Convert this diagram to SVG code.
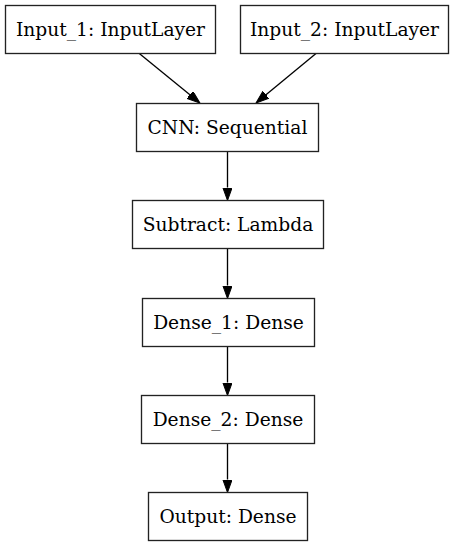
<svg xmlns="http://www.w3.org/2000/svg" width="456" height="547" viewBox="0 0 456 547">
<style>
.node rect{fill:#fff;stroke:#222;stroke-width:1.33}
.node text{font-family:"DejaVu Serif",serif;font-size:18.67px;fill:#000;text-anchor:middle}
.edges line{stroke:#000;stroke-width:1.33}
</style>
<defs>
<marker id="ah" markerUnits="userSpaceOnUse" markerWidth="14" markerHeight="10" refX="0" refY="4.7" orient="auto" viewBox="0 0 14 10">
<path d="M0,0 L13,4.7 L0,9.4 z" fill="#000" stroke="#000" stroke-width="1"/>
</marker>
</defs>
<rect width="456" height="547" fill="#fff"/>
<g class="edges">
<line x1="139.3" y1="53.5" x2="189.9" y2="94.8" marker-end="url(#ah)"/>
<line x1="316" y1="53.5" x2="266" y2="94.7" marker-end="url(#ah)"/>
<line x1="227.5" y1="151.5" x2="227.5" y2="187.5" marker-end="url(#ah)"/>
<line x1="227.5" y1="248.5" x2="227.5" y2="285.5" marker-end="url(#ah)"/>
<line x1="227.5" y1="346.5" x2="227.5" y2="382.5" marker-end="url(#ah)"/>
<line x1="227.5" y1="443.5" x2="227.5" y2="479.5" marker-end="url(#ah)"/>
</g>
<g class="node" id="input_1"><rect x="5.5" y="5.5" width="210" height="48"/><text x="110.5" y="35.5">Input_1: InputLayer</text></g>
<g class="node" id="input_2"><rect x="240.5" y="5.5" width="208" height="48"/><text x="344.5" y="35.5">Input_2: InputLayer</text></g>
<g class="node" id="cnn"><rect x="136.5" y="103.5" width="182" height="48"/><text x="227.5" y="133.5">CNN: Sequential</text></g>
<g class="node" id="subtract"><rect x="132.5" y="200.5" width="191" height="48"/><text x="228" y="230.5">Subtract: Lambda</text></g>
<g class="node" id="dense_1"><rect x="142.5" y="298.5" width="172" height="48"/><text x="228.5" y="328.5">Dense_1: Dense</text></g>
<g class="node" id="dense_2"><rect x="141.5" y="395.5" width="173" height="48"/><text x="228" y="425.5">Dense_2: Dense</text></g>
<g class="node" id="output"><rect x="148.5" y="492.5" width="159" height="48"/><text x="228" y="522.5">Output: Dense</text></g>
</svg>
